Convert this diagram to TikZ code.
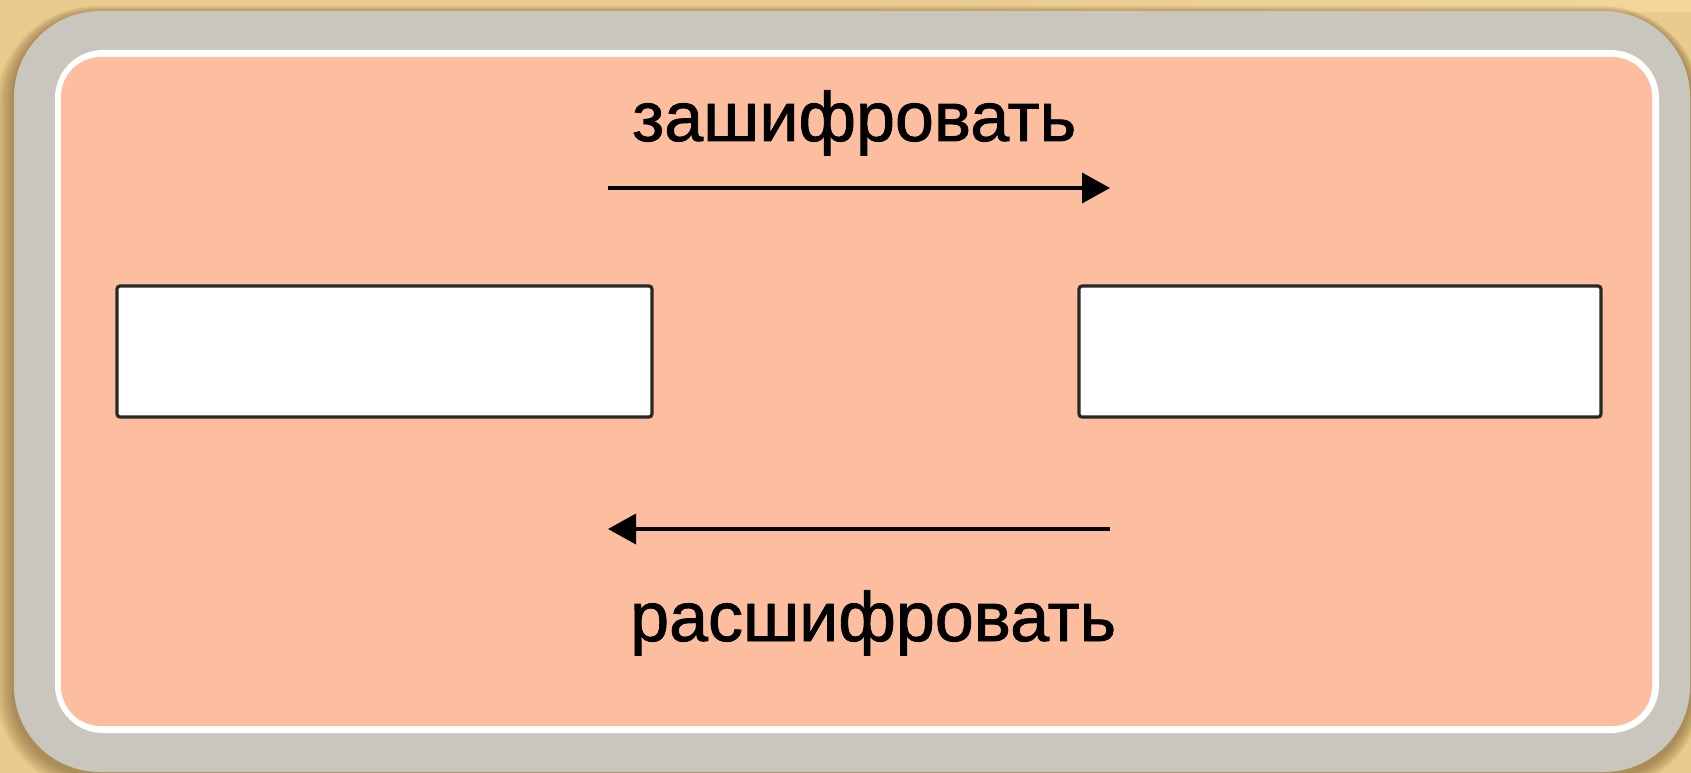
\documentclass[tikz,border=0pt]{standalone}
\usepackage{fontspec}
\setmainfont{Liberation Sans}
\newfontfamily\lblfont[FakeBold=1.2]{Liberation Sans}
\usetikzlibrary{arrows.meta}
\definecolor{bgc}{RGB}{233,203,142}
\definecolor{bglight}{RGB}{242,214,155}
\definecolor{shadowc}{RGB}{110,80,35}
\definecolor{framegrey}{RGB}{201,198,189}
\definecolor{salmonc}{RGB}{253,190,160}
\definecolor{boxline}{RGB}{40,40,40}
\begin{document}
\begin{tikzpicture}[x=1pt,y=-1pt,
  plainbox/.style={draw=boxline, line width=3.2pt, fill=white, rounded corners=3pt, inner sep=0pt, outer sep=0pt},
  wordlabel/.style={font=\lblfont\fontsize{70}{84}\selectfont, text=black, inner sep=0pt, anchor=base west},
  arr/.style={line width=3.8pt, draw=black, -{Triangle[length=28pt,width=30pt]}}]
\useasboundingbox (0,0) rectangle (1691,773);
% background
\fill[bgc] (0,0) rectangle (1691,773);
\shade[left color=bgc, right color=bglight, middle color=bgc] (0,0) rectangle (1691,12);
% shadow
\foreach \i in {1,...,8}{
  \fill[shadowc, opacity=0.08, rounded corners=84+\i*2] (14-\i*2.2, 14-\i*1.0) rectangle (1690+\i*1.5, 775+\i*2);
}
% frame
\fill[framegrey, rounded corners=86] (14,11) rectangle (1690,772);
\fill[white, rounded corners=48] (55,50) rectangle (1659,733);
\fill[salmonc, rounded corners=40] (61,57) rectangle (1652,726);
% boxes
\node[plainbox, minimum width=535pt, minimum height=131pt] (plain) at (384.5,351.5) {};
\node[plainbox, minimum width=522pt, minimum height=131pt] (cipher) at (1340,351.5) {};
% arrows
\coordinate (encS) at (608,188);
\coordinate (encE) at (1110,188);
\coordinate (decS) at (1110,529);
\coordinate (decE) at (608,529);
\draw[arr] (encS) -- (encE);
\draw[arr] (decS) -- (decE);
% labels
\node[wordlabel] (enc) at (632,141) {зашифровать};
\node[wordlabel] (dec) at (630,641) {расшифровать};
\end{tikzpicture}
\end{document}
